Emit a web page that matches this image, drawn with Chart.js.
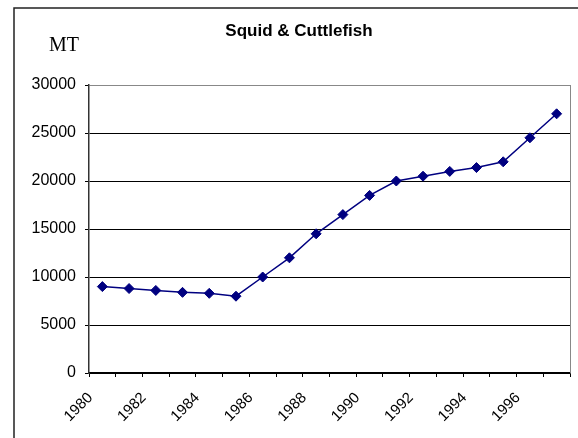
<!DOCTYPE html>
<html>
<head>
<meta charset="utf-8">
<script src="https://cdn.jsdelivr.net/npm/chart.js@4.4.1/dist/chart.umd.min.js"></script>
<style>
  html, body { margin: 0; padding: 0; background: #fff; }
  #wrap { width: 578px; height: 438px; }
</style>
</head>
<body>
<div id="wrap"><canvas id="squidChart" width="578" height="438"></canvas></div>
<script>
// data
const years = ['1980', '1981', '1982', '1983', '1984', '1985', '1986', '1987', '1988',
               '1989', '1990', '1991', '1992', '1993', '1994', '1995', '1996', '1997'];
const catch_mt = [9000, 8800, 8600, 8400, 8300, 8000, 10000, 12000, 14500,
                  16500, 18500, 20000, 20500, 21000, 21400, 22000, 24500, 27000];
const yTicks = [0, 5000, 10000, 15000, 20000, 25000, 30000];
const chartTitle = 'Squid & Cuttlefish';
const unitLabel = 'MT';

// frame, plot border and free texts
const decorPlugin = {
    id: 'decor',
    beforeDraw(chart) {
        const ctx = chart.ctx;
        ctx.save();
        ctx.fillStyle = '#fff';
        ctx.fillRect(0, 0, chart.width, chart.height);
        ctx.strokeStyle = '#222';
        ctx.lineWidth = 1.5;
        ctx.strokeRect(14, 8, 700, 600);
        ctx.restore();
    },
    afterDraw(chart) {
        const ctx = chart.ctx;
        const area = chart.chartArea;
        ctx.save();
        // right side of plot area
        ctx.strokeStyle = '#888';
        ctx.lineWidth = 1;
        ctx.beginPath();
        ctx.moveTo(Math.round(area.right) + 0.5, area.top);
        ctx.lineTo(Math.round(area.right) + 0.5, area.bottom);
        ctx.stroke();

        ctx.fillStyle = '#000';
        ctx.textAlign = 'center';
        ctx.textBaseline = 'middle';
        ctx.font = 'bold 17px "Liberation Sans", Arial, sans-serif';
        ctx.fillText(chartTitle, 299, 31);
        ctx.font = '20px "Liberation Serif", "Times New Roman", serif';
        ctx.fillText(unitLabel, 64, 46);
        ctx.restore();
    }
};

const ctx = document.getElementById('squidChart').getContext('2d');
new Chart(ctx, {
    type: 'line',
    data: {
        labels: years,
        datasets: [{
            label: chartTitle,
            data: catch_mt,
            borderColor: '#000080',
            backgroundColor: '#000080',
            borderWidth: 1.5,
            pointStyle: 'rectRot',
            pointRadius: 5,
            pointBorderWidth: 1,
            tension: 0,
            fill: false
        }]
    },
    options: {
        responsive: false,
        animation: false,
        devicePixelRatio: 1,
        layout: { padding: { left: 0, top: 85, right: 8, bottom: 0 } },
        plugins: {
            legend: { display: false },
            tooltip: { enabled: false },
            title: { display: false }
        },
        scales: {
            x: {
                type: 'category',
                offset: true,
                grid: {
                    offset: true,
                    drawOnChartArea: false,
                    drawTicks: true,
                    tickLength: 4,
                    color: '#000'
                },
                border: { color: '#000', width: 1.5 },
                ticks: {
                    autoSkip: false,
                    minRotation: 45,
                    maxRotation: 45,
                    color: '#000',
                    padding: 12,
                    labelOffset: -12,
                    font: { family: '"Liberation Sans", Arial, sans-serif', size: 15 },
                    callback: function (value, index) {
                        return index % 2 === 0 ? years[index] : '';
                    }
                },
                afterFit: function (scale) {
                    scale.height = 65;
                    scale.paddingLeft = 0;
                    scale.paddingRight = 0;
                }
            },
            y: {
                min: 0,
                max: 30000,
                afterBuildTicks: function (scale) {
                    scale.ticks = yTicks.map(v => ({ value: v }));
                },
                grid: {
                    color: function (c) { return c.tick.value === 30000 ? '#888' : '#000'; },
                    tickColor: '#000',
                    tickLength: 4,
                    lineWidth: 1
                },
                border: { color: '#333', width: 1.5 },
                ticks: {
                    color: '#000',
                    padding: 9,
                    font: { family: '"Liberation Sans", Arial, sans-serif', size: 16 },
                    callback: function (value) { return String(value); }
                },
                afterFit: function (scale) { scale.width = 89; }
            }
        }
    },
    plugins: [decorPlugin]
});
</script>
</body>
</html>
